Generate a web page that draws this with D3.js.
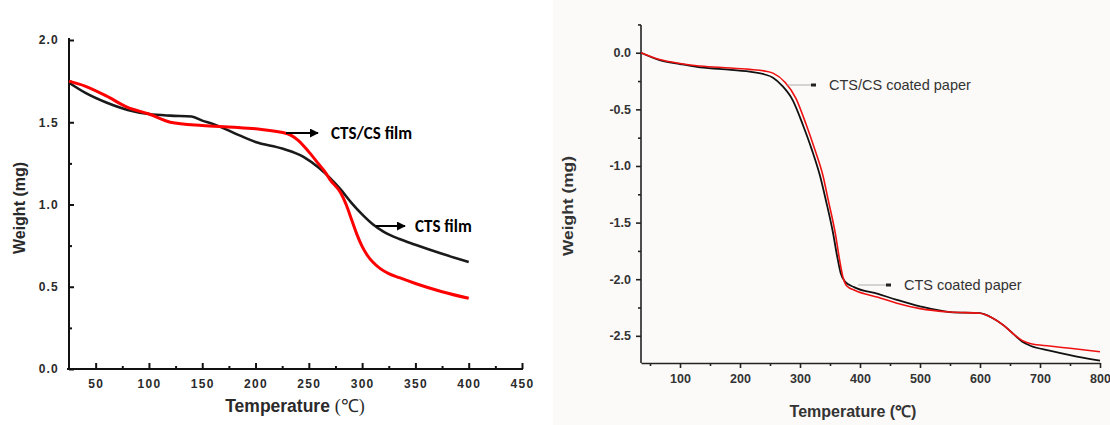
<!DOCTYPE html>
<html>
<head>
<meta charset="utf-8">
<script src="https://cdn.jsdelivr.net/npm/d3@7"></script>
<style>
  body { margin: 0; background: #fff; }
  svg { display: block; }
  .tl text { font-family: "Liberation Sans", Arial, sans-serif; }
</style>
</head>
<body>
<svg id="chart" width="1110" height="425"></svg>
<script>
// ---- left panel: film TGA curves ----
const filmTemp = [25, 40, 60, 80, 100, 120, 140, 150, 160, 185, 200, 225, 245, 260, 270, 280, 290, 300, 310, 320, 335, 350, 375, 400];
const ctsFilm  = [1.74, 1.68, 1.62, 1.575, 1.55, 1.54, 1.535, 1.51, 1.49, 1.42, 1.38, 1.34, 1.29, 1.22, 1.16, 1.09, 1.01, 0.94, 0.88, 0.835, 0.79, 0.755, 0.70, 0.65];

const filmTemp2 = [25, 40, 60, 80, 100, 120, 150, 180, 200, 230, 240, 250, 260, 265, 270, 280, 285, 290, 295, 300, 305, 310, 317, 325, 335, 350, 375, 400];
const ctsCsFilm = [1.75, 1.72, 1.66, 1.59, 1.55, 1.50, 1.48, 1.47, 1.46, 1.43, 1.39, 1.32, 1.24, 1.20, 1.15, 1.07, 1.00, 0.91, 0.82, 0.745, 0.69, 0.65, 0.61, 0.58, 0.555, 0.52, 0.47, 0.43];

const leftXTicks = [50, 100, 150, 200, 250, 300, 350, 400, 450];
const leftXMinor = [75, 125, 175, 225, 275, 325, 375, 425];
const leftYTicks = [0.0, 0.5, 1.0, 1.5, 2.0];
const leftYMinor = [0.25, 0.75, 1.25, 1.75];

// ---- right panel: coated paper TGA curves ----
const paperTemp = [35, 66, 100, 128, 170, 216, 240, 255, 270, 288, 305, 320, 333, 343, 355, 362, 368, 375, 390, 430, 460, 500, 550, 600, 620, 640, 655, 670, 685, 716, 750, 800];
const ctsPaper  = [0.0, -0.065, -0.10, -0.125, -0.145, -0.167, -0.19, -0.22, -0.29, -0.42, -0.64, -0.86, -1.08, -1.30, -1.59, -1.80, -1.95, -2.02, -2.07, -2.13, -2.18, -2.24, -2.29, -2.30, -2.34, -2.41, -2.48, -2.55, -2.59, -2.63, -2.67, -2.72];

const paperTemp2 = [35, 66, 100, 128, 170, 216, 240, 255, 275, 293, 310, 325, 338, 347, 359, 366, 372, 378, 392, 430, 460, 500, 550, 600, 620, 640, 655, 670, 685, 716, 750, 800];
const ctsCsPaper = [0.0, -0.06, -0.095, -0.115, -0.13, -0.147, -0.16, -0.18, -0.26, -0.40, -0.63, -0.86, -1.08, -1.30, -1.60, -1.83, -1.99, -2.06, -2.10, -2.16, -2.21, -2.26, -2.29, -2.30, -2.34, -2.41, -2.48, -2.54, -2.57, -2.59, -2.61, -2.64];

const rightXTicks = [100, 200, 300, 400, 500, 600, 700, 800];
const rightXMinor = [50, 150, 250, 350, 450, 550, 650, 750];
const rightYTicks = [0.0, -0.5, -1.0, -1.5, -2.0, -2.5];
const rightYMinor = [0.25, -0.25, -0.75, -1.25, -1.75, -2.25];

const svg = d3.select("#chart");

// faint paper tone behind the scanned right figure
svg.append("rect").attr("x", 553).attr("y", 0).attr("width", 557).attr("height", 425).attr("fill", "#fbfaf8");

const defs = svg.append("defs");
defs.append("marker")
    .attr("id", "arrow")
    .attr("viewBox", "0 0 10 10")
    .attr("refX", 9).attr("refY", 5)
    .attr("markerWidth", 4.5).attr("markerHeight", 4.5)
    .attr("orient", "auto")
    .append("path")
    .attr("d", "M0,0 L10,5 L0,10 z")
    .attr("fill", "#000");

function styleAxis(g, width, color) {
    g.select(".domain").attr("stroke", color).attr("stroke-width", width);
    g.selectAll(".tick line").attr("stroke", color).attr("stroke-width", width);
}

// plain hyphen minus like the scanned figure
const fmt1 = v => d3.format(".1f")(v).replace("\u2212", "-");

// ================= LEFT =================
const lx = d3.scaleLinear().domain([25, 450]).range([69, 522]);
const ly = d3.scaleLinear().domain([0, 2]).range([369, 40]);
const left = svg.append("g");

const lxAxis = left.append("g").attr("class", "tl")
    .attr("transform", `translate(0,${ly(0)})`)
    .call(d3.axisBottom(lx).tickValues(leftXTicks).tickSizeInner(-6).tickSizeOuter(0).tickPadding(10).tickFormat(d3.format("d")));
styleAxis(lxAxis, 2, "#111");
lxAxis.select(".domain").attr("d", `M${lx(25) - 2},0H${lx(450) + 1}`);
lxAxis.selectAll("text").attr("font-size", 12).attr("font-weight", "bold").attr("fill", "#2a2a2a").attr("letter-spacing", 1.3);

const lxMinor = left.append("g")
    .attr("transform", `translate(0,${ly(0)})`)
    .call(d3.axisBottom(lx).tickValues(leftXMinor).tickSizeInner(-3).tickSizeOuter(0).tickFormat(""));
lxMinor.select(".domain").remove();
styleAxis(lxMinor, 2, "#111");

const lyAxis = left.append("g").attr("class", "tl")
    .attr("transform", `translate(${lx(25)},0)`)
    .call(d3.axisLeft(ly).tickValues(leftYTicks).tickSizeInner(-5).tickSizeOuter(0).tickPadding(10).tickFormat(fmt1));
styleAxis(lyAxis, 2, "#111");
lyAxis.select(".domain").attr("d", `M0,${ly(0) + 1}V${ly(2) - 2}`);
lyAxis.selectAll("text").attr("font-size", 12).attr("font-weight", "bold").attr("fill", "#2a2a2a").attr("letter-spacing", 1.2);

const lyMinor = left.append("g")
    .attr("transform", `translate(${lx(25)},0)`)
    .call(d3.axisLeft(ly).tickValues(leftYMinor).tickSizeInner(-3).tickSizeOuter(0).tickFormat(""));
lyMinor.select(".domain").remove();
styleAxis(lyMinor, 2, "#111");

const lineL = d3.line().x(d => lx(d[0])).y(d => ly(d[1])).curve(d3.curveMonotoneX);
left.append("path")
    .datum(d3.zip(filmTemp, ctsFilm))
    .attr("fill", "none").attr("stroke", "#1a1a1a").attr("stroke-width", 2.6)
    .attr("d", lineL);
left.append("path")
    .datum(d3.zip(filmTemp2, ctsCsFilm))
    .attr("fill", "none").attr("stroke", "#ff0000").attr("stroke-width", 3)
    .attr("d", lineL);

// annotations
left.append("line").attr("x1", 286).attr("y1", 133).attr("x2", 318).attr("y2", 133)
    .attr("stroke", "#000").attr("stroke-width", 2).attr("marker-end", "url(#arrow)");
left.append("text").attr("x", 331).attr("y", 139)
    .attr("font-family", "Carlito, 'Liberation Sans', Arial, sans-serif").attr("font-weight", "bold").attr("font-size", 17)
    .text("CTS/CS film");
left.append("line").attr("x1", 376).attr("y1", 226).attr("x2", 405).attr("y2", 226)
    .attr("stroke", "#000").attr("stroke-width", 2).attr("marker-end", "url(#arrow)");
left.append("text").attr("x", 415).attr("y", 232)
    .attr("font-family", "Carlito, 'Liberation Sans', Arial, sans-serif").attr("font-weight", "bold").attr("font-size", 17)
    .text("CTS film");

// axis titles
const ltx = left.append("text").attr("x", 295).attr("y", 412).attr("text-anchor", "middle")
    .attr("fill", "#2a2a2a");
ltx.append("tspan").attr("font-family", "'Liberation Sans', Arial, sans-serif").attr("font-weight", "bold").attr("font-size", 17.5).text("Temperature ");
ltx.append("tspan").attr("font-family", "'Liberation Serif', 'Times New Roman', serif").attr("font-size", 18).text("(℃)");

left.append("text")
    .attr("transform", `translate(25,208) rotate(-90)`)
    .attr("text-anchor", "middle")
    .attr("font-family", "'Liberation Sans', Arial, sans-serif").attr("font-weight", "bold").attr("font-size", 16)
    .attr("fill", "#2a2a2a")
    .text("Weight (mg)");

// ================= RIGHT =================
const rx = d3.scaleLinear().domain([35, 800]).range([641, 1100]);
const ry = d3.scaleLinear().domain([-2.74, 0.245]).range([363, 25]);
const right = svg.append("g");

const rxAxis = right.append("g").attr("class", "tl")
    .attr("transform", `translate(0,${ry(-2.74)})`)
    .call(d3.axisBottom(rx).tickValues(rightXTicks).tickSizeInner(5).tickSizeOuter(0).tickPadding(6).tickFormat(d3.format("d")));
styleAxis(rxAxis, 1.6, "#222");
rxAxis.selectAll("text").attr("font-size", 12.5).attr("font-weight", "bold").attr("fill", "#333");

const rxMinor = right.append("g")
    .attr("transform", `translate(0,${ry(-2.74)})`)
    .call(d3.axisBottom(rx).tickValues(rightXMinor).tickSizeInner(3).tickSizeOuter(0).tickFormat(""));
rxMinor.select(".domain").remove();
styleAxis(rxMinor, 1.6, "#222");

const ryAxis = right.append("g").attr("class", "tl")
    .attr("transform", `translate(${rx(35)},0)`)
    .call(d3.axisLeft(ry).tickValues(rightYTicks).tickSizeInner(5).tickSizeOuter(0).tickPadding(5).tickFormat(fmt1));
styleAxis(ryAxis, 1.6, "#222");
ryAxis.select(".domain").attr("d", `M0,${ry(-2.74)}V${ry(0.245)}`);
ryAxis.selectAll("text").attr("font-size", 12.5).attr("font-weight", "bold").attr("fill", "#333");

const ryMinor = right.append("g")
    .attr("transform", `translate(${rx(35)},0)`)
    .call(d3.axisLeft(ry).tickValues(rightYMinor).tickSizeInner(3).tickSizeOuter(0).tickFormat(""));
ryMinor.select(".domain").remove();
styleAxis(ryMinor, 1.6, "#222");

const lineR = d3.line().x(d => rx(d[0])).y(d => ry(d[1])).curve(d3.curveMonotoneX);
right.append("path")
    .datum(d3.zip(paperTemp, ctsPaper))
    .attr("fill", "none").attr("stroke", "#111").attr("stroke-width", 1.8)
    .attr("d", lineR);
right.append("path")
    .datum(d3.zip(paperTemp2, ctsCsPaper))
    .attr("fill", "none").attr("stroke", "#ee1111").attr("stroke-width", 1.6)
    .attr("d", lineR);

// leader labels
right.append("line").attr("x1", 787).attr("y1", 85).attr("x2", 812).attr("y2", 85).attr("stroke", "#999").attr("stroke-width", 0.8);
right.append("rect").attr("x", 811).attr("y", 83.5).attr("width", 5).attr("height", 3).attr("fill", "#222");
right.append("text").attr("x", 829).attr("y", 90)
    .attr("font-family", "'Liberation Sans', Arial, sans-serif").attr("font-size", 14.5).attr("fill", "#333")
    .text("CTS/CS coated paper");
right.append("line").attr("x1", 858).attr("y1", 285).attr("x2", 887).attr("y2", 285).attr("stroke", "#999").attr("stroke-width", 0.8);
right.append("rect").attr("x", 886).attr("y", 283.5).attr("width", 5).attr("height", 3).attr("fill", "#222");
right.append("text").attr("x", 904).attr("y", 290)
    .attr("font-family", "'Liberation Sans', Arial, sans-serif").attr("font-size", 14.5).attr("fill", "#333")
    .text("CTS coated paper");

right.append("text").attr("x", 853).attr("y", 417).attr("text-anchor", "middle")
    .attr("font-family", "'Liberation Sans', Arial, sans-serif").attr("font-weight", "bold").attr("font-size", 16)
    .attr("fill", "#333")
    .text("Temperature (℃)");

right.append("text")
    .attr("transform", `translate(573,206) rotate(-90)`)
    .attr("text-anchor", "middle")
    .attr("font-family", "'Liberation Sans', Arial, sans-serif").attr("font-weight", "bold").attr("font-size", 14)
    .attr("textLength", 100).attr("lengthAdjust", "spacingAndGlyphs")
    .attr("fill", "#333")
    .text("Weight (mg)");
</script>
</body>
</html>
